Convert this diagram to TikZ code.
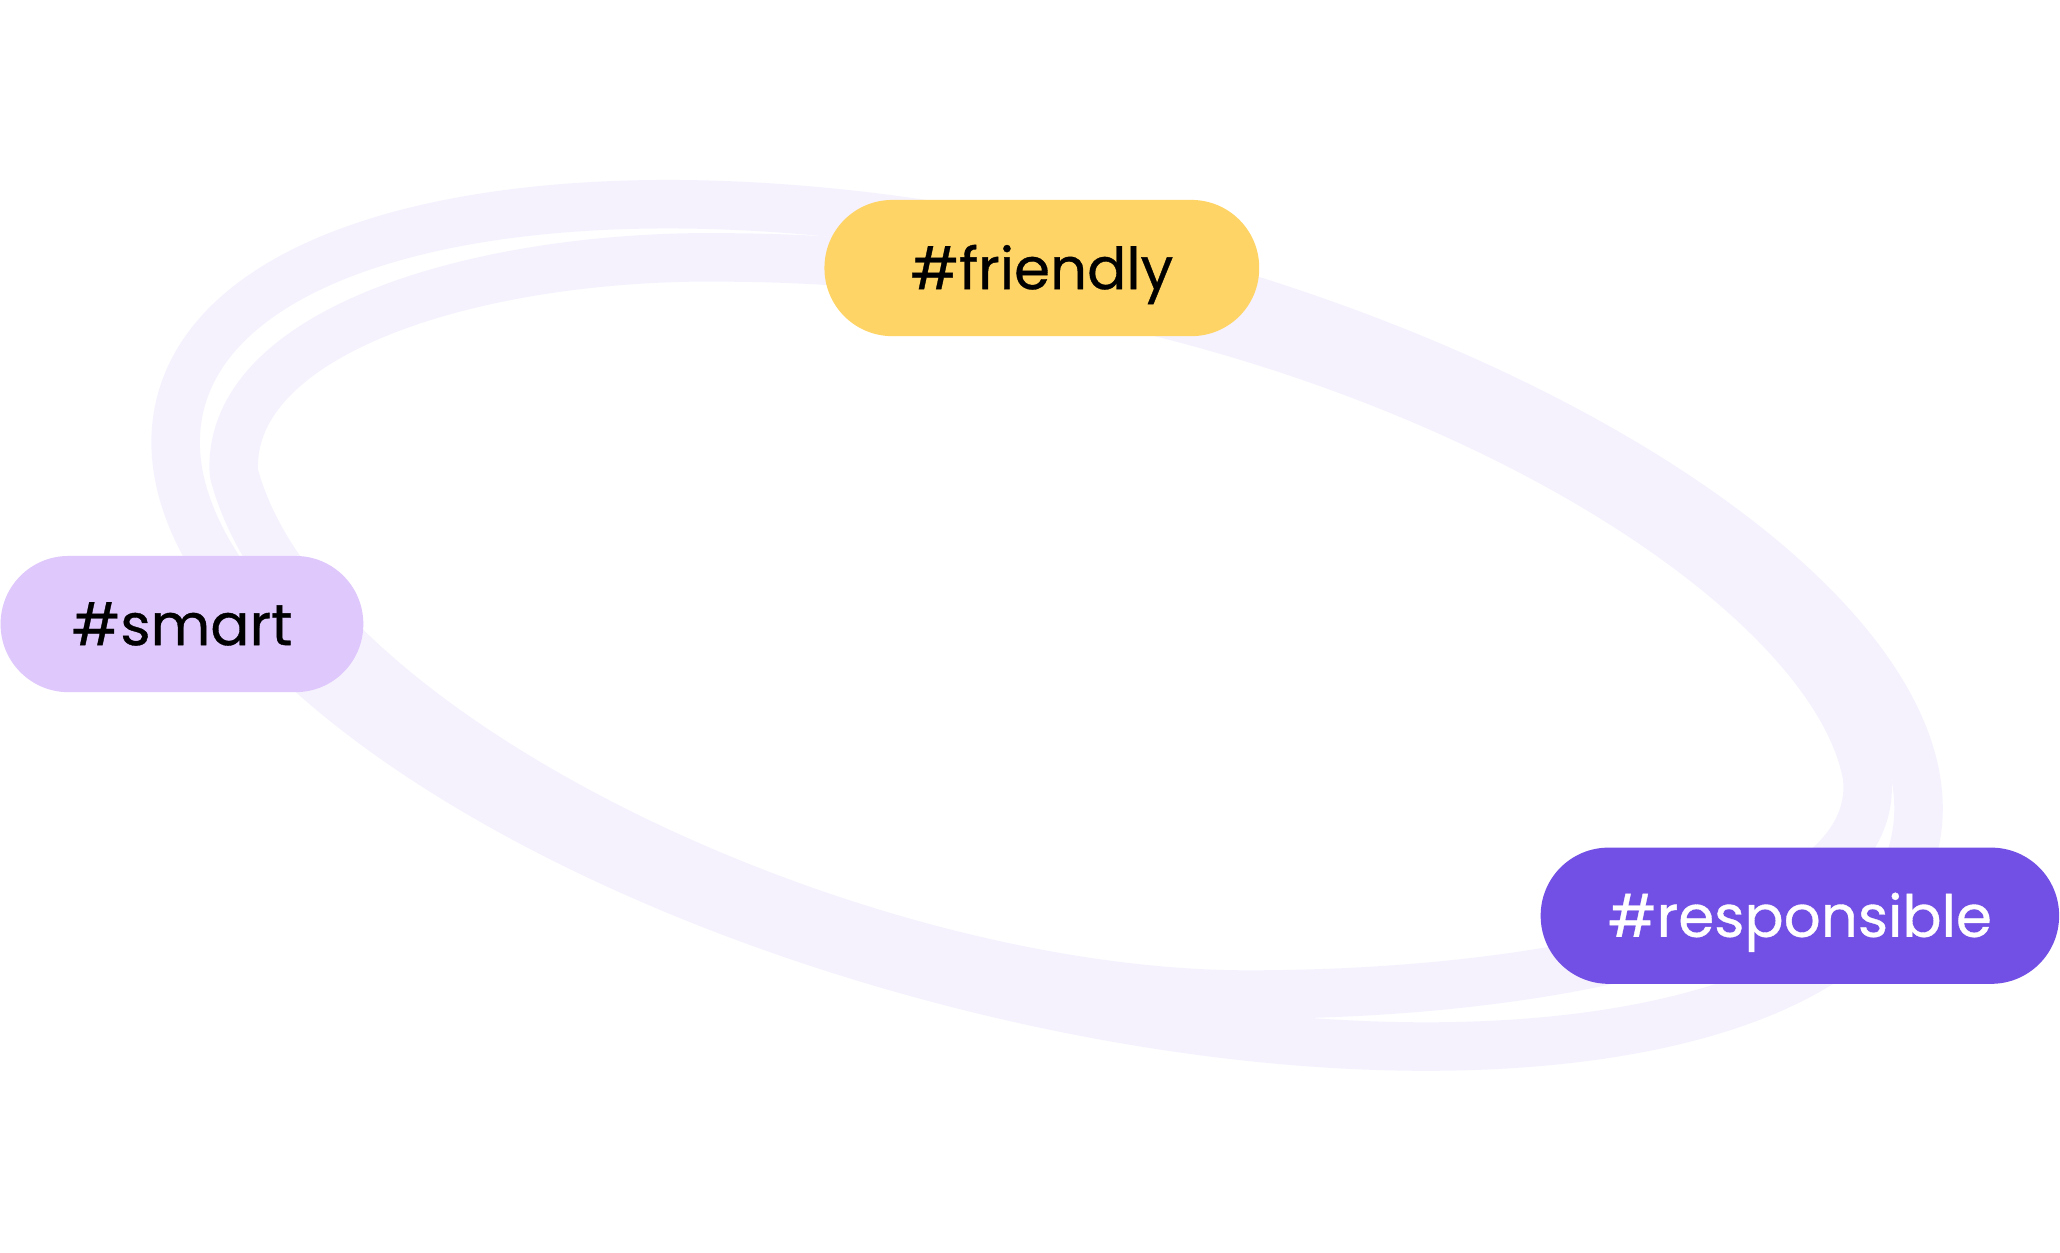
\documentclass[tikz,border=0pt]{standalone}
\usepackage{fontspec}
\setmainfont{Poppins}[FakeBold=0.6]
\usepackage{tikz}
\usetikzlibrary{positioning}
\definecolor{TagScribble}{HTML}{F5F2FE}
\definecolor{TagYellow}{HTML}{FFD466}
\definecolor{TagLilac}{HTML}{DFC8FB}
\definecolor{TagPurple}{HTML}{7350E5}
\tikzset{
  scribble/.style={draw=TagScribble,line width=13.8pt,line join=round},
  tagpill/.style={rounded corners=19.3pt,minimum height=38.75pt,inner sep=0pt,
    text height=12pt,text depth=0pt,
    font=\fontsize{16.5}{18}\selectfont,text=black},
}

\begin{document}
\begin{tikzpicture}[x=0.13138mm,y=-0.13138mm]
  \useasboundingbox (0,0) rectangle (1568,953);
  \fill[white] (0,0) rectangle (1568,953);

  % outer loop of the scribble
  \draw[scribble,rotate around={-14.4:(797,476)}] (797,476) ellipse [x radius=681,y radius=281];
  % inner loop of the scribble
  \draw[scribble] (178,360) .. controls (172,250) and (370,192) .. (560,196)
    .. controls (1000,200) and (1390,425) .. (1421,590)
    .. controls (1435,700) and (1200,757) .. (950,757)
    .. controls (650,757) and (230,560) .. cycle;

  \node[tagpill,fill=TagYellow,minimum width=123.7pt] (friendly) at (793,204) {\#friendly};
  \node[tagpill,fill=TagLilac,minimum width=103.2pt] (smart) at (138.5,475) {\#smart};
  \node[tagpill,fill=TagPurple,text=white,minimum width=147.5pt] (responsible) at (1370,697) {\#responsible};
\end{tikzpicture}
\end{document}
